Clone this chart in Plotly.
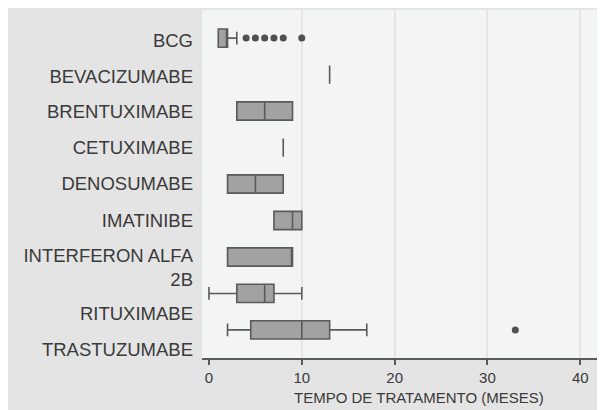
import plotly.graph_objects as go

# ---- data ----
categories = ["BCG", "BEVACIZUMABE", "BRENTUXIMABE", "CETUXIMABE", "DENOSUMABE",
              "IMATINIBE", "INTERFERON ALFA 2B", "RITUXIMABE", "TRASTUZUMABE"]
tick_labels = ["BCG", "BEVACIZUMABE", "BRENTUXIMABE", "CETUXIMABE", "DENOSUMABE",
               "IMATINIBE", "INTERFERON ALFA<br>2B", "RITUXIMABE", "TRASTUZUMABE"]
lower_whisker = [1, 13, 3, 8, 2, 7, 2, 0, 2]
q1 = [1, 13, 3, 8, 2, 7, 2, 3, 4.5]
median = [2, 13, 6, 8, 5, 9, 9, 6, 10]
q3 = [2, 13, 9, 8, 8, 10, 9, 7, 13]
upper_whisker = [3, 13, 9, 8, 8, 10, 9, 10, 17]
outlier_category = ["BCG", "BCG", "BCG", "BCG", "BCG", "BCG", "TRASTUZUMABE"]
outlier_values = [4, 5, 6, 7, 8, 10, 33]
x_ticks = [0, 10, 20, 30, 40]
x_title = "TEMPO DE TRATAMENTO (MESES)"

n = len(categories)
positions = list(range(n))

# label positions (the wrapped label pushes the following ones down, as in the reference)
label_pos = [float(p) for p in positions]
label_pos[0] += 0.08
label_pos[1] += 0.06
label_pos[6] += 0.29
label_pos[7] += 0.56
label_pos[8] += 0.55

PLOT_BG = "#f3f4f4"
PAPER_BG = "#e4e4e4"
TEXT = "#3a3a3a"
FONT = "Liberation Sans, Arial, sans-serif"

fig = go.Figure()
fig.add_trace(go.Box(
    y=positions,
    lowerfence=lower_whisker,
    q1=q1,
    median=median,
    q3=q3,
    upperfence=upper_whisker,
    orientation="h",
    width=0.5,
    whiskerwidth=0.7,
    fillcolor="#a2a2a2",
    line=dict(color="#5a5a5a", width=1.6),
    boxpoints=False,
    showlegend=False,
    hoverinfo="skip",
))
fig.add_trace(go.Scatter(
    x=outlier_values,
    y=[categories.index(c) for c in outlier_category],
    mode="markers",
    marker=dict(color="#505050", size=7),
    showlegend=False,
    hoverinfo="skip",
))

# the page has an 8px body margin, which gives the white strip at left/top
W, H = 597, 402
L, R, T, B = 194, 8, 2, 52
pw, ph = W - L - R, H - T - B

fig.update_layout(
    width=W, height=H,
    margin=dict(l=L, r=R, t=T, b=B),
    paper_bgcolor=PAPER_BG,
    plot_bgcolor=PLOT_BG,
    font=dict(family=FONT, color=TEXT),
    xaxis=dict(
        range=[-0.75, 41.8],
        tickmode="array", tickvals=x_ticks,
        showgrid=True, gridcolor="#e6e6e6", gridwidth=1.5,
        zeroline=True, zerolinecolor=PLOT_BG, zerolinewidth=1,
        showline=True, linecolor="#5a5a5a", linewidth=1.5,
        ticks="outside", ticklen=5, tickcolor="#5a5a5a", tickwidth=1.5,
        tickfont=dict(size=15, color=TEXT, family=FONT),
        fixedrange=True,
    ),
    yaxis=dict(
        range=[8.77, -0.77],
        tickmode="array", tickvals=label_pos, ticktext=tick_labels,
        showgrid=False, zeroline=False, showline=False,
        ticks="", ticklabelstandoff=8,
        tickfont=dict(size=18.5, color=TEXT, family=FONT),
        fixedrange=True,
    ),
    annotations=[dict(
        text=x_title, xref="paper", yref="paper",
        x=(411 - L) / pw, y=(H - B - 389) / ph,
        xanchor="center", yanchor="middle", showarrow=False,
        font=dict(size=15, color=TEXT, family=FONT),
    )],
)

fig.write_html("out.html")
